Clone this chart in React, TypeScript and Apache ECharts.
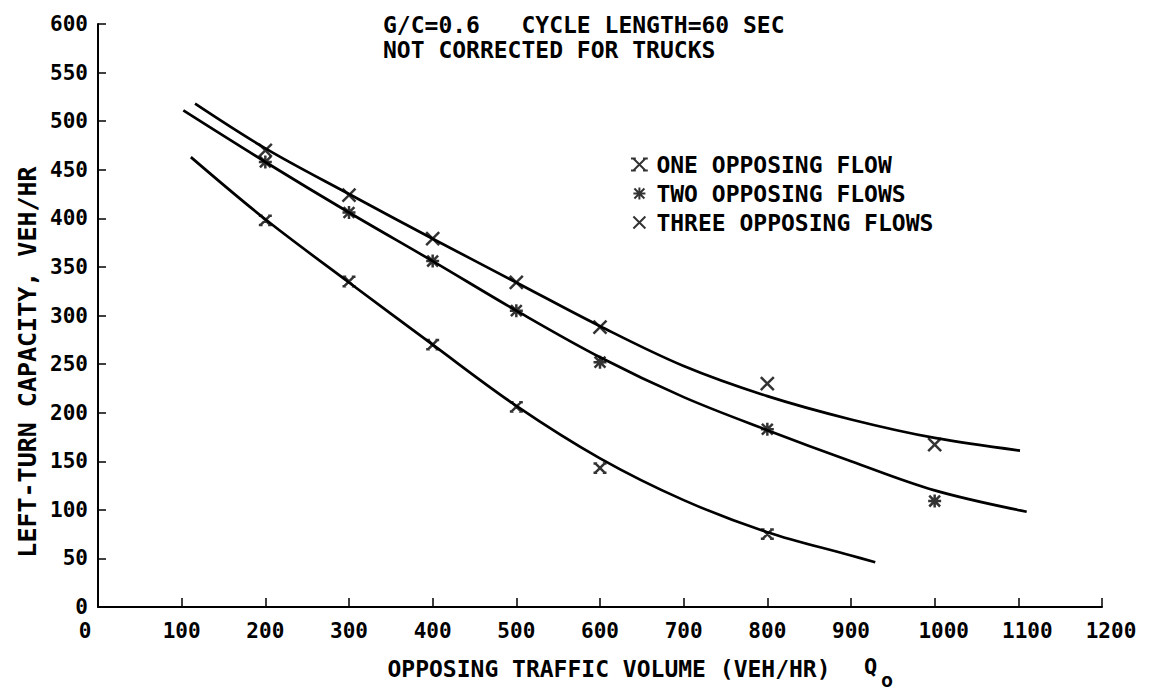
import React, { useEffect, useRef } from 'react';
import * as echarts from 'echarts';

const FONT = '"DejaVu Sans Mono", monospace';

const titleLines = ['G/C=0.6   CYCLE LENGTH=60 SEC', 'NOT CORRECTED FOR TRUCKS'];
const xAxisTitle = 'OPPOSING TRAFFIC VOLUME (VEH/HR)';
const yAxisTitle = 'LEFT-TURN CAPACITY, VEH/HR';
const seriesNames = ['ONE OPPOSING FLOW', 'TWO OPPOSING FLOWS', 'THREE OPPOSING FLOWS'];

// observed points
const oneX = [200, 300, 400, 500, 600, 800];
const oneY = [398, 335, 270, 206, 143, 75];
const twoX = [200, 300, 400, 500, 600, 800, 1000];
const twoY = [458, 406, 356, 305, 252, 183, 109];
const threeX = [200, 300, 400, 500, 600, 800, 1000];
const threeY = [470, 424, 379, 334, 288, 230, 167];

// fitted curves
const oneFitX = [111, 200, 300, 400, 500, 600, 700, 800, 900, 929];
const oneFitY = [463, 399, 334, 270, 207, 153, 110, 77, 53, 46];
const twoFitX = [102, 200, 300, 400, 500, 600, 700, 800, 900, 1000, 1110];
const twoFitY = [511, 458, 406, 356, 305, 257, 216, 182, 150, 120, 98];
const threeFitX = [116, 200, 300, 400, 500, 600, 700, 800, 900, 1000, 1102];
const threeFitY = [518, 472, 425, 379, 334, 289, 248, 217, 193, 174, 161];

const symOne = 'path://M0,0L10,10M10,0L0,10M-2,0L2,0M8,0L12,0M-2,10L2,10M8,10L12,10';
const symTwo = 'path://M0,0L10,10M10,0L0,10M5,-1L5,11M-1,5L11,5';
const symThree = 'path://M0,0L10,10M10,0L0,10';

const zip = (xs: number[], ys: number[]) => xs.map((x, i) => [x, ys[i]]);

export default function App() {
  const ref = useRef<HTMLDivElement>(null);
  useEffect(() => {
    if (!ref.current) return;
    const chart = echarts.init(ref.current, null, { renderer: 'svg' });
    const tickFont = { fontFamily: FONT, fontSize: 21, fontWeight: 'bold' as const, color: '#000' };
    const scatter = (name: string, xs: number[], ys: number[], sym: string) => ({
      type: 'scatter',
      name,
      data: zip(xs, ys),
      symbol: sym,
      symbolSize: 13,
      symbolKeepAspect: true,
      itemStyle: { color: 'rgba(0,0,0,0)', borderColor: '#000', borderWidth: 2.5 },
      z: 5,
      silent: true,
    });
    const curve = (xs: number[], ys: number[]) => ({
      type: 'line',
      data: zip(xs, ys),
      smooth: 0.35,
      symbol: 'none',
      lineStyle: { color: '#000', width: 2.7 },
      z: 2,
      silent: true,
    });
    chart.setOption({
      animation: false,
      backgroundColor: '#fff',
      title: {
        text: titleLines.join('\n'),
        left: 383,
        top: 12,
        padding: 0,
        textStyle: { fontFamily: FONT, fontSize: 23, fontWeight: 'bold', color: '#000', lineHeight: 25 },
      },
      legend: {
        data: [
          { name: seriesNames[0], icon: symOne },
          { name: seriesNames[1], icon: symTwo },
          { name: seriesNames[2], icon: symThree },
        ],
        orient: 'vertical',
        left: 630,
        top: 153,
        padding: 0,
        itemWidth: 24,
        itemHeight: 12,
        itemGap: 6,
        selectedMode: false,
        textStyle: { fontFamily: FONT, fontSize: 23, fontWeight: 'bold', color: '#000', lineHeight: 22 },
      },
      grid: { left: 98, right: 52, top: 24, bottom: 88, containLabel: false },
      xAxis: {
        type: 'value',
        min: 0,
        max: 1200,
        interval: 100,
        name: xAxisTitle,
        nameLocation: 'middle',
        nameGap: 50,
        nameTextStyle: { fontFamily: FONT, fontSize: 23, fontWeight: 'bold', color: '#000', padding: [0, 0, 0, 18] },
        axisLine: { lineStyle: { color: '#000', width: 2 } },
        axisTick: { inside: true, length: 9, lineStyle: { color: '#000', width: 1.5 } },
        splitLine: { show: false },
        axisLabel: {
          margin: 13,
          ...tickFont,
          formatter: (v: number) => (v === 0 ? '{z|0}' : v >= 1000 ? '{w|' + v + '}' : String(v)),
          rich: {
            z: { ...tickFont, padding: [0, 26, 0, 0] },
            w: { ...tickFont, padding: [0, 0, 0, 18] },
          },
        },
      },
      yAxis: {
        type: 'value',
        min: 0,
        max: 600,
        interval: 50,
        axisLine: { show: true, lineStyle: { color: '#000', width: 2 } },
        axisTick: { show: true, inside: true, length: 8, lineStyle: { color: '#000', width: 1.5 } },
        splitLine: { show: false },
        axisLabel: { margin: 10, ...tickFont },
      },
      graphic: [
        {
          type: 'text',
          x: 27,
          y: 362,
          rotation: Math.PI / 2,
          style: {
            text: yAxisTitle,
            fill: '#000',
            font: 'bold 25px ' + FONT,
            align: 'center',
            verticalAlign: 'middle',
            textAlign: 'center',
            textVerticalAlign: 'middle',
          },
        },
        {
          type: 'text',
          x: 864,
          y: 666,
          style: {
            text: 'Q',
            fill: '#000',
            font: 'bold 22px ' + FONT,
            align: 'left',
            verticalAlign: 'middle',
            textAlign: 'left',
            textVerticalAlign: 'middle',
          },
        },
        {
          type: 'text',
          x: 881,
          y: 680,
          style: {
            text: 'o',
            fill: '#000',
            font: 'bold 20px ' + FONT,
            align: 'left',
            verticalAlign: 'middle',
            textAlign: 'left',
            textVerticalAlign: 'middle',
          },
        },
      ],
      series: [
        scatter(seriesNames[0], oneX, oneY, symOne),
        scatter(seriesNames[1], twoX, twoY, symTwo),
        scatter(seriesNames[2], threeX, threeY, symThree),
        curve(oneFitX, oneFitY),
        curve(twoFitX, twoFitY),
        curve(threeFitX, threeFitY),
      ],
    });
    return () => chart.dispose();
  }, []);
  return <div ref={ref} style={{ width: 1154, height: 695, position: 'absolute', left: 0, top: 0 }} />;
}
